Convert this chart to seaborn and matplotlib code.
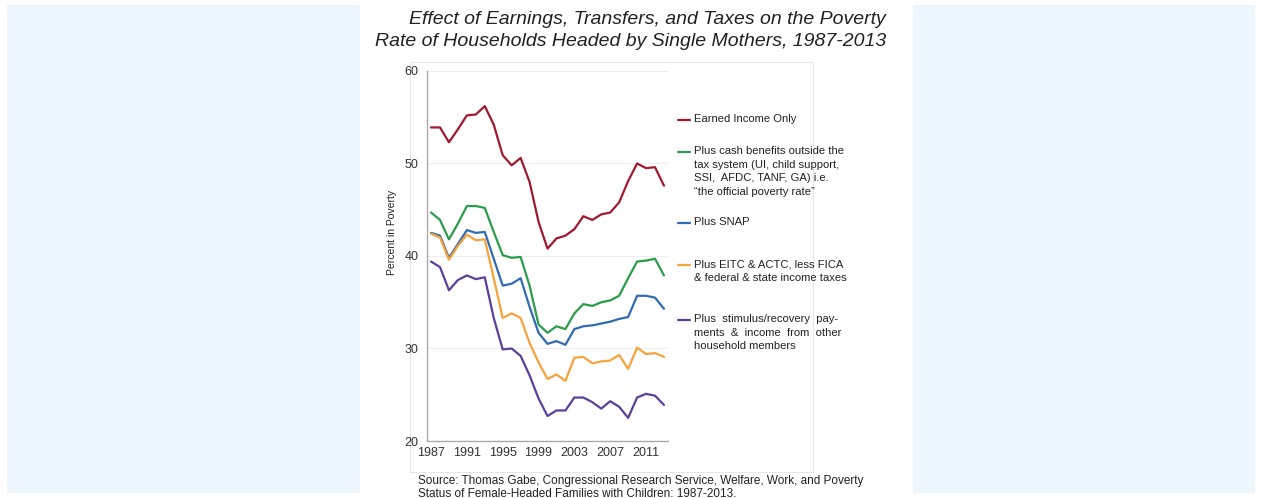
import matplotlib
matplotlib.use('Agg')
import matplotlib.pyplot as plt
import matplotlib.patches as mpatches
from matplotlib.lines import Line2D
import seaborn as sns
import pandas as pd

years = list(range(1987, 2014))

earned = [53.9, 53.9, 52.3, 53.7, 55.2, 55.3, 56.2, 54.2, 50.9, 49.8, 50.6, 48.0, 43.7, 40.8,
          41.9, 42.2, 42.9, 44.3, 43.9, 44.5, 44.7, 45.8, 48.1, 50.0, 49.5, 49.6, 47.6]
official = [44.7, 43.9, 41.8, 43.5, 45.4, 45.4, 45.2, 42.6, 40.1, 39.8, 39.9, 36.8, 32.6, 31.7,
            32.4, 32.1, 33.8, 34.8, 34.6, 35.0, 35.2, 35.7, 37.6, 39.4, 39.5, 39.7, 37.9]
snap = [42.5, 42.2, 39.8, 41.3, 42.8, 42.5, 42.6, 39.7, 36.8, 37.0, 37.6, 34.5, 31.7, 30.5,
        30.8, 30.4, 32.1, 32.4, 32.5, 32.7, 32.9, 33.2, 33.4, 35.7, 35.7, 35.5, 34.3]
eitc = [42.4, 42.0, 39.6, 41.1, 42.3, 41.7, 41.8, 37.6, 33.3, 33.8, 33.3, 30.6, 28.5, 26.7,
        27.2, 26.5, 29.0, 29.1, 28.4, 28.6, 28.7, 29.3, 27.8, 30.1, 29.4, 29.5, 29.1]
stimulus = [39.4, 38.8, 36.3, 37.4, 37.9, 37.5, 37.7, 33.3, 29.9, 30.0, 29.2, 27.1, 24.6, 22.7,
            23.3, 23.3, 24.7, 24.7, 24.2, 23.5, 24.3, 23.7, 22.5, 24.7, 25.1, 24.9, 23.9]

series_names = ['Earned Income Only', 'Official', 'SNAP', 'EITC', 'Stimulus']
series_values = [earned, official, snap, eitc, stimulus]
colors = ['#a0192d', '#2a9d4b', '#2f6cb0', '#f7a23c', '#5b3f9c']

legend_labels = [
    'Earned Income Only',
    'Plus cash benefits outside the\ntax system (UI, child support,\nSSI,  AFDC, TANF, GA) i.e.\n\u201cthe official poverty rate\u201d',
    'Plus SNAP',
    'Plus EITC & ACTC, less FICA\n& federal & state income taxes',
    'Plus  stimulus/recovery  pay-\nments  &  income  from  other\nhousehold members',
]
xtick_years = [1987, 1991, 1995, 1999, 2003, 2007, 2011]

title = ('Effect of Earnings, Transfers, and Taxes on the Poverty\n'
         'Rate of Households Headed by Single Mothers, 1987-2013')
source = ('Source: Thomas Gabe, Congressional Research Service, Welfare, Work, and Poverty\n'
          'Status of Female-Headed Families with Children: 1987-2013.')

rows = []
for name, vals in zip(series_names, series_values):
    for y, v in zip(years, vals):
        rows.append({'year': y, 'pct': v, 'series': name})
df = pd.DataFrame(rows)

sns.set_theme(style='white')
plt.rcParams['font.family'] = ['Liberation Sans', 'DejaVu Sans']

W, H = 1262, 498
fig = plt.figure(figsize=(W / 100, H / 100), dpi=100)
fig.patch.set_facecolor('white')

# light blue side areas, white centre panel, faint inner frame (behind the axes)
fig.patches.append(mpatches.Rectangle((7 / W, 5 / H), (1255 - 7) / W, (493 - 5) / H,
                                      transform=fig.transFigure, facecolor='#eef6fd',
                                      edgecolor='none', zorder=-3))
fig.patches.append(mpatches.Rectangle((360 / W, 0), (913 - 360) / W, 1,
                                      transform=fig.transFigure, facecolor='white',
                                      edgecolor='none', zorder=-2))
fig.patches.append(mpatches.Rectangle((410 / W, 1 - 472 / H), (813 - 410) / W, (472 - 62) / H,
                                      transform=fig.transFigure, facecolor='none',
                                      edgecolor='#e6e6e6', lw=0.8, zorder=-1))

ax = fig.add_axes([427 / W, 57 / H, (668 - 427) / W, (441 - 71) / H])
ax.set_facecolor('none')
sns.lineplot(data=df, x='year', y='pct', hue='series', hue_order=series_names,
             palette=colors, linewidth=1.6, legend=False, ax=ax)

ax.set_xlim(1986.55, 2013.45)
ax.set_ylim(20, 60)
ax.set_xticks(xtick_years)
ax.set_xticks(years, minor=True)
ax.set_yticks([20, 30, 40, 50, 60])
ax.tick_params(axis='y', labelsize=9, colors='#333333', length=0, pad=6)
ax.tick_params(axis='x', which='both', labelsize=9, labelcolor='#333333', direction='in',
               length=2.5, color='#999999', pad=4)
ax.set_xlabel('')
ax.set_ylabel('Percent in Poverty', fontsize=7.5, color='#222222')
ax.yaxis.set_label_coords(-0.125, 0.565)
ax.grid(axis='y', color='#eeeeee', lw=0.8)
for s in ['top', 'right']:
    ax.spines[s].set_visible(False)
for s in ['left', 'bottom']:
    ax.spines[s].set_color('#aaaaaa')
    ax.spines[s].set_linewidth(1.0)

# legend drawn by hand to mimic the uneven spacing of the original
legend_y = [120, 152, 223, 265, 320]
for lab, col, ly in zip(legend_labels, colors, legend_y):
    fig.add_artist(Line2D([678 / W, 690 / W], [1 - ly / H, 1 - ly / H],
                          transform=fig.transFigure, color=col, lw=1.6))
    fig.text(694 / W, 1 - (ly - 6) / H, lab, fontsize=8.1, color='#222222',
             va='top', ha='left', linespacing=1.45)

fig.text(886 / W, 1 - 11 / H, title, fontsize=14, style='italic', color='#222222',
         ha='right', va='top', multialignment='right', linespacing=1.38)
fig.text(418 / W, 1 - 475 / H, source, fontsize=8.5, color='#222222',
         ha='left', va='top', linespacing=1.15)

fig.savefig('out.png', dpi=100, facecolor='white')
